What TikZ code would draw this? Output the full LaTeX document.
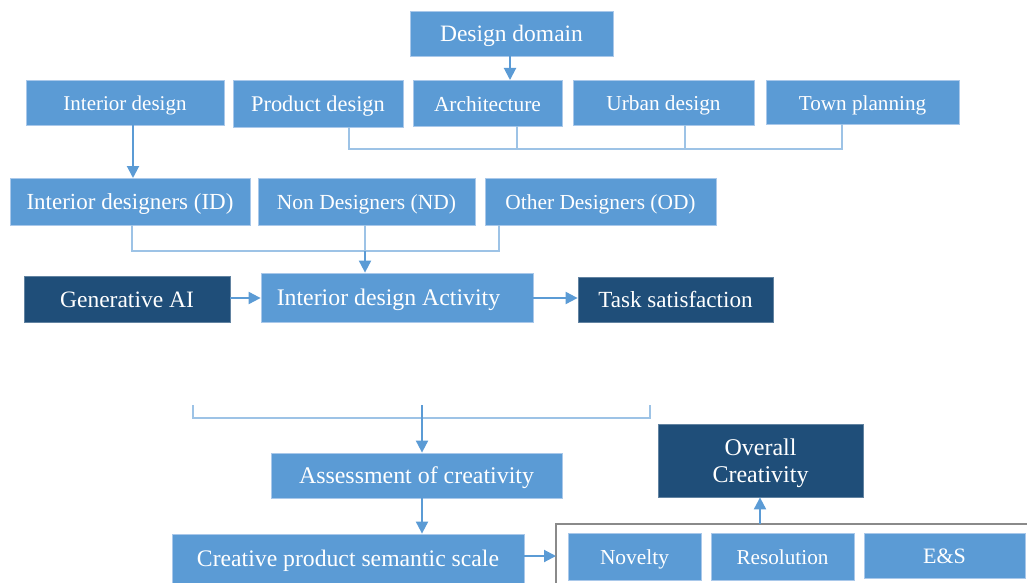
\documentclass[tikz,border=0pt]{standalone}
\usepackage{fontspec}
\setmainfont{Liberation Serif}
\usetikzlibrary{arrows.meta}
\definecolor{midblue}{HTML}{5B9BD5}
\definecolor{darkblue}{HTML}{1F4E79}
\definecolor{lightline}{HTML}{9DC3E6}
\definecolor{edgeblue}{HTML}{A9C8EA}
\definecolor{framegray}{HTML}{8A8A8A}
\newcommand{\fs}[1]{\fontsize{#1}{27}\selectfont}
\begin{document}
\begin{tikzpicture}[x=1pt,y=-1pt,
  box/.style={fill=midblue,draw=edgeblue,line width=0.8pt,text=white,inner sep=0pt,
    text height=16.5pt,text depth=0pt},
  darkbox/.style={box,fill=darkblue,draw=darkblue!70!white},
  bracket/.style={draw=lightline,line width=1.3pt},
  flow/.style={draw=midblue,line width=2pt,-{Triangle[length=12pt,width=12pt]}},
  frame/.style={draw=framegray,line width=1.8pt}]
\useasboundingbox (0,0) rectangle (1027,583);

% domain row
\node[box,minimum width=203pt,minimum height=45pt,font=\fs{23.5}] (dom) at (511.5,33.5) {Design domain};
\node[box,minimum width=198pt,minimum height=45pt,font=\fs{21}] (intd) at (125,102.5) {Interior design};
\node[box,minimum width=170pt,minimum height=47pt,font=\fs{22.4}] (prod) at (318,103.5) {Product design};
\node[box,minimum width=149pt,minimum height=46pt,font=\fs{21.4}] (arch) at (487.5,103) {Architecture};
\node[box,minimum width=181pt,minimum height=45pt,font=\fs{21.3}] (urb) at (663.5,102.5) {Urban design};
\node[box,minimum width=193pt,minimum height=44pt,font=\fs{21.2}] (town) at (862.5,102) {Town planning};

% participant groups
\node[box,minimum width=240pt,minimum height=47pt,font=\fs{23}] (idr) at (130,201.5) {Interior designers (ID)};
\node[box,minimum width=217pt,minimum height=47pt,font=\fs{21.5}] (ndr) at (366.5,201.5) {Non Designers (ND)};
\node[box,minimum width=231pt,minimum height=47pt,font=\fs{21.4}] (odr) at (600.5,201.5) {Other Designers (OD)};

% activity row
\node[darkbox,minimum width=206pt,minimum height=46pt,font=\fs{23.5}] (gai) at (127,299) {Generative AI};
\node[box,minimum width=272pt,minimum height=49pt,font=\fs{23.8}] (act) at (397,297.5) {Interior design Activity\hspace{17pt}\null};
\node[darkbox,minimum width=195pt,minimum height=45pt,font=\fs{23.1}] (task) at (675.5,299.5) {Task satisfaction};

% assessment
\node[box,minimum width=291pt,minimum height=45pt,font=\fs{23.9}] (ass) at (416.5,475.5) {Assessment of creativity};
\node[box,minimum width=352pt,minimum height=49pt,font=\fs{23.7}] (cpss) at (348,558.5) {Creative product semantic scale};
\node[box,minimum width=133pt,minimum height=47pt,font=\fs{21.4}] (nov) at (634.5,556.5) {Novelty};
\node[box,minimum width=143pt,minimum height=47pt,font=\fs{21.2}] (res) at (782.5,556.5) {Resolution};
\node[box,minimum width=161pt,minimum height=45pt,font=\fs{22}] (es) at (944.5,555.5) {E\&S};
\node[darkbox,minimum width=205pt,minimum height=73pt,font=\fs{24},text height=17pt,text depth=28pt]
  (ovc) at (760.5,460.5)
  {\vtop{\hbox to 0pt{\hss Overall\hss}\hbox to 0pt{\hss Creativity\hss}}};

% frame around the scale dimensions
\coordinate (fl) at (556,524);
\coordinate (fb) at (556,600);
\coordinate (fr) at (1040,524);
\coordinate (ftop) at (760,524);
\draw[frame] (fb) -- (fl) -- (fr);

% domain links
\coordinate (da) at (510,80);
\draw[flow] (dom.south -| da) -- (da);
\coordinate (b1) at (349,149);
\coordinate (b2) at (517,149);
\coordinate (b3) at (685,149);
\coordinate (b4) at (842,149);
\draw[bracket] (prod.south -| b1) -- (b1) -- (b4) -- (town.south -| b4);
\draw[bracket] (arch.south -| b2) -- (b2);
\draw[bracket] (urb.south -| b3) -- (b3);
\coordinate (ia) at (133,178);
\draw[flow] (intd.south -| ia) -- (ia);

% groups into the activity
\coordinate (c1) at (132,251);
\coordinate (c2) at (365,251);
\coordinate (c3) at (499,251);
\draw[bracket] (idr.south -| c1) -- (c1) -- (c3) -- (odr.south -| c3);
\draw[bracket] (ndr.south -| c2) -- (c2);
\draw[flow] (c2) -- (act.north -| c2);
\coordinate (ar) at (0,298);
\draw[flow] (gai.east |- ar) -- (act.west |- ar);
\draw[flow] (act.east |- ar) -- (task.west |- ar);

% bracket over the assessment
\coordinate (e1) at (193,405);
\coordinate (e2) at (193,418);
\coordinate (e3) at (650,418);
\coordinate (e4) at (650,405);
\coordinate (em) at (422,405);
\draw[bracket] (e1) -- (e2) -- (e3) -- (e4);
\draw[flow] (em) -- (ass.north -| em);
\draw[flow] (ass.south -| em) -- (cpss.north -| em);
\coordinate (sr) at (0,556);
\draw[flow] (cpss.east |- sr) -- (fl |- sr);
\draw[flow] (ftop) -- (ovc.south -| ftop);
\end{tikzpicture}
\end{document}
